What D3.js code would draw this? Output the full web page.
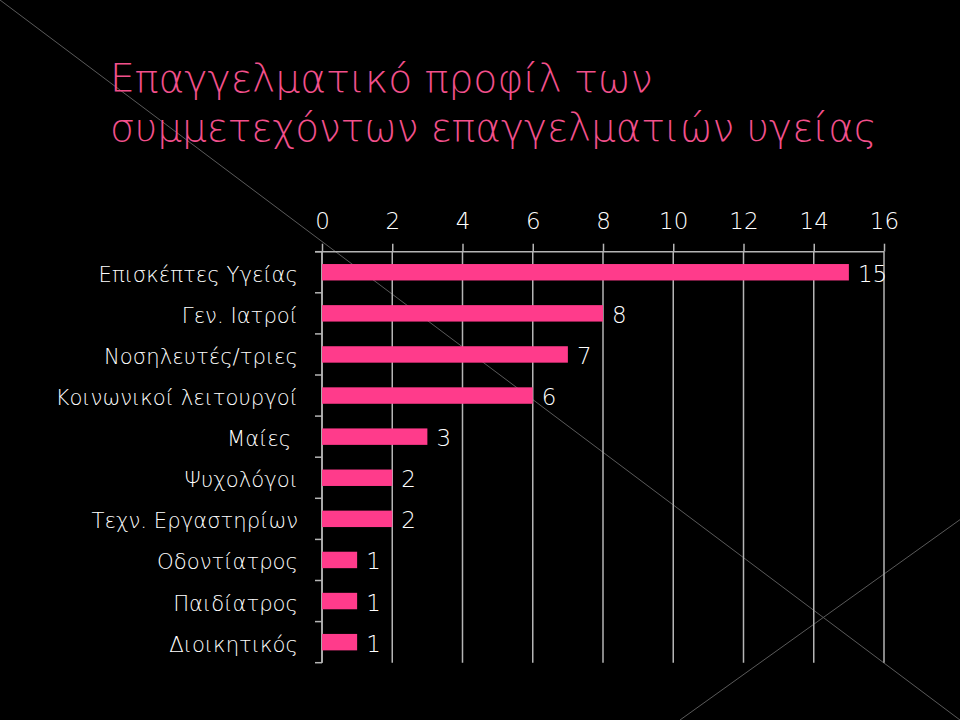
<!DOCTYPE html>
<html><head><meta charset="utf-8">
<script src="https://cdn.jsdelivr.net/npm/d3@7"></script>
<style>
html,body{margin:0;padding:0;background:#000;}
svg{display:block;}
</style></head>
<body>
<script>
const categories = ["Επισκέπτες Υγείας","Γεν. Ιατροί","Νοσηλευτές/τριες","Κοινωνικοί λειτουργοί","Μαίες ","Ψυχολόγοι","Τεχν. Εργαστηρίων","Οδοντίατρος","Παιδίατρος","Διοικητικός"];
const values = [15, 8, 7, 6, 3, 2, 2, 1, 1, 1];
const xTicks = [0, 2, 4, 6, 8, 10, 12, 14, 16];
const titleLines = ["Επαγγελματικό προφίλ των", "συμμετεχόντων επαγγελματιών υγείας"];

const W = 960, H = 720;
const FONT = "'DejaVu Sans', 'Noto Sans', sans-serif";
const svg = d3.select("body").append("svg").attr("width", W).attr("height", H);
svg.append("rect").attr("width", W).attr("height", H).attr("fill", "#000");

// decorative slide lines
const deco = svg.append("g").attr("stroke", "#5a5a5a").attr("stroke-width", 1);
deco.append("line").attr("x1", 0).attr("y1", 0).attr("x2", 960).attr("y2", 720);
deco.append("line").attr("x1", 680).attr("y1", 720).attr("x2", 1000).attr("y2", 491);

// title
const title = svg.append("g").attr("font-family", FONT).attr("fill", "#f2508c").attr("font-weight", 300);
const titleWidths = [543, 767];
titleLines.forEach((t, i) => {
  const el = title.append("text").attr("x", 110).attr("y", i === 0 ? 92 : 141)
    .attr("font-size", 40).text(t);
  const w = el.node().getComputedTextLength();
  el.attr("font-size", 40 * titleWidths[i] / w);
});

const x = d3.scaleLinear().domain([0, 16]).range([322, 884]);
const y = d3.scaleBand().domain(categories).range([251.7, 662.7]).paddingInner(0.6).paddingOuter(0.3);
const step = y.step();

const g = svg.append("g");

// gridlines
g.append("g").selectAll("line").data(xTicks).join("line")
  .attr("x1", d => x(d)).attr("x2", d => x(d))
  .attr("y1", 251.7).attr("y2", 662.7)
  .attr("stroke", "#b5b5b5").attr("stroke-width", 1.5);

// top axis
const xAxis = d3.axisTop(x).tickValues(xTicks).tickSize(8).tickPadding(15).tickFormat(d3.format("d"));
const ax = g.append("g").attr("transform", "translate(0,251.7)").call(xAxis);
ax.select(".domain").remove();
ax.selectAll(".tick line").attr("stroke", "#b5b5b5").attr("stroke-width", 1.5);
ax.selectAll(".tick text").attr("fill", "#fff").attr("font-size", 23).attr("font-family", FONT).attr("font-weight", 300);
g.append("line").attr("x1", 315).attr("x2", x(16)).attr("y1", 251.7).attr("y2", 251.7)
  .attr("stroke", "#b5b5b5").attr("stroke-width", 1.5);

// left axis line + band boundary ticks
g.append("line").attr("x1", x(0)).attr("x2", x(0)).attr("y1", 251.7).attr("y2", 662.7)
  .attr("stroke", "#b5b5b5").attr("stroke-width", 1.5);
const bounds = categories.map(c => y(c) - step * 0.3).concat([y(categories[categories.length-1]) + y.bandwidth() + step*0.3]);
g.append("g").selectAll("line").data(bounds).join("line")
  .attr("x1", 315).attr("x2", x(0)).attr("y1", d => d).attr("y2", d => d)
  .attr("stroke", "#b5b5b5").attr("stroke-width", 1.5);

// bars
g.append("g").selectAll("rect").data(values).join("rect")
  .attr("x", x(0)).attr("y", (d, i) => y(categories[i]))
  .attr("width", d => x(d) - x(0)).attr("height", y.bandwidth())
  .attr("fill", "#ff3b8b");

// value labels
g.append("g").selectAll("text").data(values).join("text")
  .attr("x", d => x(d) + 9).attr("y", (d, i) => y(categories[i]) + y.bandwidth() / 2 + 9.5)
  .attr("fill", "#fff").attr("font-size", 23)
  .attr("font-family", FONT).attr("font-weight", 300).text(d => d);

// category labels
g.append("g").selectAll("text").data(categories).join("text")
  .attr("x", 298).attr("y", d => y(d) + y.bandwidth() / 2 + 9.5)
  .attr("text-anchor", "end").attr("fill", "#fff").attr("font-size", 21.2)
  .attr("font-family", FONT).attr("font-weight", 300).attr("xml:space", "preserve").text(d => d);
</script>
</body></html>
